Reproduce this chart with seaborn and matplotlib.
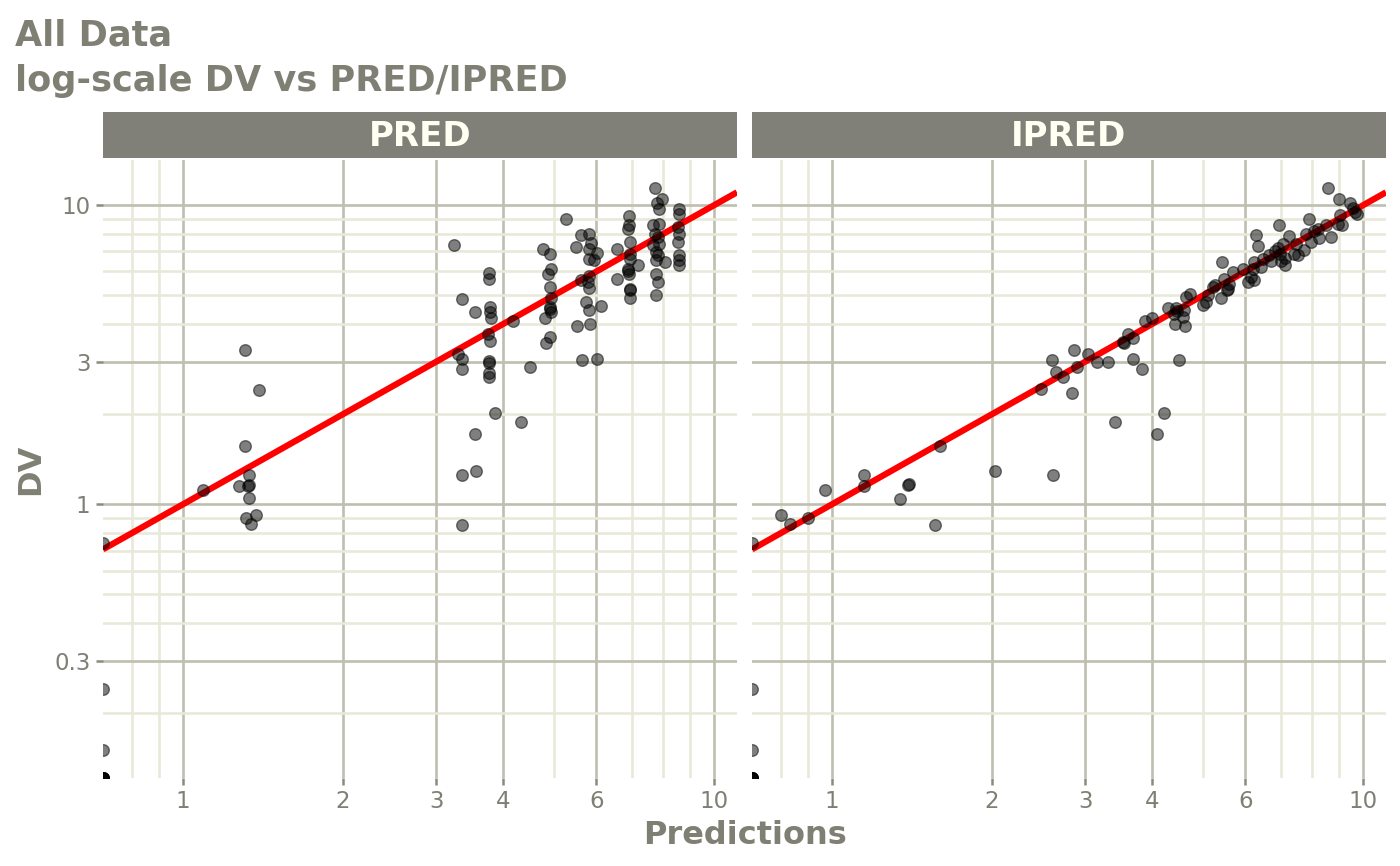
import numpy as np
import pandas as pd
import matplotlib
matplotlib.use("Agg")
import matplotlib.pyplot as plt
import seaborn as sns
from matplotlib.ticker import FixedLocator, NullFormatter, FixedFormatter

sns.set_theme(style="white")
plt.rcParams['font.family'] = ['DejaVu Sans']

# ---------------- data ----------------
panels = ["PRED", "IPRED"]

pred_x = [0, 0, 0, 0, 0, 0, 0, 0,
          1.09, 1.31, 1.39, 1.31, 1.333, 1.277, 1.333, 1.324, 1.33, 1.314, 1.372, 1.343,
          3.23, 3.76, 3.76, 3.35, 3.55, 3.79, 3.79, 3.80, 4.18, 3.75, 3.78, 3.29, 3.35, 3.35,
          3.76, 3.77, 3.76, 3.76, 4.50, 3.86, 4.32, 3.54, 3.35, 3.56, 3.35,
          4.76, 4.90, 4.92, 4.87, 4.90, 4.92, 4.90, 4.90, 4.93, 4.81, 4.90, 4.82,
          5.26, 5.62, 5.82, 5.50, 5.85, 5.82, 6.01, 5.82, 5.95, 5.62, 5.82, 5.78, 5.82, 5.74,
          5.82, 6.13, 5.51, 5.84, 5.63, 6.02, 6.56, 6.57,
          6.91, 6.91, 6.88, 6.93, 6.93, 6.93, 7.18, 6.88, 6.90, 6.93, 6.95, 6.93, 6.88,
          7.72, 7.98, 7.81, 7.86, 7.67, 7.87, 7.72, 7.83, 7.67, 7.86, 7.76, 7.83, 7.78, 8.06,
          7.78, 7.83, 7.76,
          8.57, 8.57, 8.55, 8.57, 8.55, 8.57, 8.57, 8.57]
pred_dv = [0.741, 0.2415, 0.151, 0, 0, 0, 0, 0,
           1.12, 3.28, 2.41, 1.57, 1.25, 1.154, 1.163, 1.148, 1.05, 0.90, 0.924, 0.86,
           7.34, 5.95, 5.68, 4.85, 4.40, 4.57, 4.38, 4.18, 4.11, 3.70, 3.51, 3.17, 3.06, 2.83,
           3.01, 2.97, 2.74, 2.67, 2.88, 2.02, 1.89, 1.715, 1.25, 1.29, 0.851,
           7.12, 6.85, 6.10, 5.87, 5.33, 4.90, 4.57, 4.48, 4.38, 4.21, 3.61, 3.45,
           9.00, 7.93, 8.02, 7.24, 7.49, 7.12, 6.93, 6.59, 6.54, 5.64, 5.80, 5.54, 5.29, 4.75,
           4.46, 4.60, 3.95, 4.00, 3.04, 3.07, 7.12, 5.65,
           9.19, 8.56, 8.34, 7.53, 6.88, 6.62, 6.32, 6.13, 5.90, 5.26, 5.20, 4.91, 6.01,
           11.4, 10.5, 10.2, 9.72, 8.56, 8.66, 8.02, 7.82, 7.34, 7.43, 6.97, 6.80, 6.54, 6.46,
           5.90, 5.54, 5.02,
           9.72, 9.35, 8.45, 8.02, 7.53, 6.80, 6.54, 6.29]

ipred_x = [0, 0, 0, 0, 0, 0, 0, 0,
           0.801, 0.833, 0.902, 0.968, 1.149, 1.151, 1.343, 1.39, 1.398, 1.566, 1.60, 2.03, 2.61,
           2.59, 2.64, 2.72, 2.475, 2.83, 2.85, 2.89, 3.03, 3.16, 3.31, 3.53, 3.60, 3.55, 3.68,
           3.68, 3.83, 3.41, 4.22, 4.09, 4.49, 3.89, 4.01, 4.29, 4.44, 4.40, 4.47, 4.43, 4.61, 4.58,
           8.58, 9.00, 9.46, 9.56, 9.74, 9.63, 9.06, 7.92, 6.93, 8.96, 9.12, 8.51, 8.22, 8.09,
           7.81, 8.71, 8.26, 6.29, 7.26, 7.96, 7.48, 6.34, 7.06, 6.91, 7.75, 7.42, 7.53, 6.81,
           6.96, 6.66, 7.11, 6.47, 6.71, 7.01, 6.24, 7.11, 6.43, 5.43, 6.20, 5.93, 5.69, 6.15,
           6.24, 6.07, 5.48, 5.60, 5.25, 5.21, 5.56, 5.53, 4.71, 4.64, 5.10, 5.40, 5.06, 4.99, 4.60]
ipred_dv = [0.741, 0.2415, 0.151, 0, 0, 0, 0, 0,
            0.919, 0.86, 0.90, 1.12, 1.25, 1.154, 1.045, 1.157, 1.169, 0.851, 1.57, 1.29, 1.25,
            3.04, 2.77, 2.67, 2.43, 2.35, 3.28, 2.87, 3.17, 3.00, 3.00, 3.49, 3.71, 3.45, 3.60,
            3.07, 2.83, 1.89, 2.02, 1.715, 3.04, 4.10, 4.18, 4.54, 4.54, 4.34, 4.42, 4.02, 3.95, 4.23,
            11.4, 10.5, 10.2, 9.77, 9.35, 9.48, 9.24, 9.00, 8.60, 8.66, 8.56, 8.56, 8.34, 8.17,
            8.02, 7.82, 7.76, 7.93, 7.87, 7.53, 7.43, 7.30, 7.43, 7.19, 7.10, 6.88, 6.80, 7.01,
            6.88, 6.80, 6.66, 6.62, 6.49, 6.49, 6.46, 6.29, 6.21, 6.46, 6.13, 6.13, 5.98, 5.75,
            5.61, 5.54, 5.68, 5.46, 5.40, 5.33, 5.26, 5.20, 5.06, 4.94, 5.00, 4.90, 4.75, 4.63, 4.47]

x_major = [1, 2, 3, 4, 6, 10]
x_major_labels = ["1", "2", "3", "4", "6", "10"]
x_minor = [0.7, 0.8, 0.9, 5, 7, 8, 9]
y_major = [0.3, 1, 3, 10]
y_major_labels = ["0.3", "1", "3", "10"]
y_minor = [0.2, 0.4, 0.5, 0.6, 0.7, 0.8, 0.9, 2, 4, 5, 6, 7, 8, 9]

title_lines = ["All Data", "log-scale DV vs PRED/IPRED"]
x_label = "Predictions"
y_label = "DV"

# ---------------- styling ----------------
TXT = "#7f7f74"
STRIP_BG = "#807f78"
STRIP_TXT = "#fffff2"
GRID_MAJ = "#bebeb1"
GRID_MIN = "#e9e9da"
TICK_COL = "#8a8a80"

df = pd.concat([
    pd.DataFrame({"panel": panels[0], "x": pred_x, "DV": pred_dv}),
    pd.DataFrame({"panel": panels[1], "x": ipred_x, "DV": ipred_dv}),
], ignore_index=True)

# shared limits: 5% expansion in log space (as ggplot does)
pos_x = np.log10(df.loc[df.x > 0, "x"])
pos_y = np.log10(df.loc[df.DV > 0, "DV"])
ex = (pos_x.max() - pos_x.min()) * 0.05
ey = (pos_y.max() - pos_y.min()) * 0.05
xlim = (10 ** (pos_x.min() - ex), 10 ** (pos_x.max() + ex))
ylim = (10 ** (pos_y.min() - ey), 10 ** (pos_y.max() + ey))

# values of 0 are -Inf on the log scale -> drawn on the panel border
df["xp"] = df["x"].where(df["x"] > 0, xlim[0])
df["yp"] = df["DV"].where(df["DV"] > 0, ylim[0])

W, H = 1400, 866
fig = plt.figure(figsize=(W / 100, H / 100), dpi=100)
fig.patch.set_facecolor("white")

panel_left = [103, 752]
panel_w = 634
panel_top, panel_bot = 160, 778
strip_top, strip_bot = 112, 158

for i, name in enumerate(panels):
    ax = fig.add_axes([panel_left[i] / W, 1 - panel_bot / H, panel_w / W, (panel_bot - panel_top) / H])
    ax.set_facecolor("white")
    ax.set_xscale("log")
    ax.set_yscale("log")
    ax.set_xlim(xlim)
    ax.set_ylim(ylim)

    ax.axline((1, 1), (10, 10), color="red", lw=4.5, zorder=2, solid_capstyle="butt")
    sub = df[df.panel == name]
    sns.scatterplot(data=sub, x="xp", y="yp", ax=ax, color="black", alpha=0.5, s=70,
                    edgecolor="black", linewidth=1.0, zorder=3, legend=False)

    ax.xaxis.set_major_locator(FixedLocator(x_major))
    ax.xaxis.set_major_formatter(FixedFormatter(x_major_labels))
    ax.xaxis.set_minor_locator(FixedLocator(x_minor))
    ax.xaxis.set_minor_formatter(NullFormatter())
    ax.yaxis.set_major_locator(FixedLocator(y_major))
    ax.yaxis.set_minor_locator(FixedLocator(y_minor))
    ax.yaxis.set_minor_formatter(NullFormatter())
    if i == 0:
        ax.yaxis.set_major_formatter(FixedFormatter(y_major_labels))
        ax.tick_params(axis="y", which="major", length=5, width=1.8, color=TICK_COL,
                       labelsize=16.5, labelcolor=TXT, pad=4, left=True)
    else:
        ax.yaxis.set_major_formatter(NullFormatter())
        ax.tick_params(axis="y", which="major", length=0)
    ax.tick_params(axis="x", which="major", length=5, width=1.8, color=TICK_COL,
                   labelsize=16.5, labelcolor=TXT, pad=4, bottom=True)
    ax.tick_params(which="minor", length=0)

    ax.set_axisbelow(True)
    ax.grid(which="minor", color=GRID_MIN, lw=1.9, zorder=0)
    ax.grid(which="major", color=GRID_MAJ, lw=1.9, zorder=0.5)
    for s in ax.spines.values():
        s.set_visible(False)
    ax.set_xlabel("")
    ax.set_ylabel("")

    # facet strip
    sax = fig.add_axes([panel_left[i] / W, 1 - strip_bot / H, panel_w / W, (strip_bot - strip_top) / H])
    sax.set_facecolor(STRIP_BG)
    sax.set_xticks([])
    sax.set_yticks([])
    for s in sax.spines.values():
        s.set_visible(False)
    sax.text(0.5, 0.47, name, transform=sax.transAxes, ha="center", va="center",
             fontsize=24.5, fontweight="bold", color=STRIP_TXT)

fig.text(15 / W, 1 - 46 / H, title_lines[0], ha="left", va="baseline",
         fontsize=25.3, fontweight="bold", color=TXT)
fig.text(15 / W, 1 - 91 / H, title_lines[1], ha="left", va="baseline",
         fontsize=25.3, fontweight="bold", color=TXT)
fig.text(745 / W, 1 - 835 / H, x_label, ha="center", va="center",
         fontsize=23, fontweight="bold", color=TXT)
fig.text(31 / W, 1 - 469 / H, y_label, ha="center", va="center", rotation=90,
         fontsize=23, fontweight="bold", color=TXT)

fig.savefig("out.png", dpi=100, facecolor="white")
